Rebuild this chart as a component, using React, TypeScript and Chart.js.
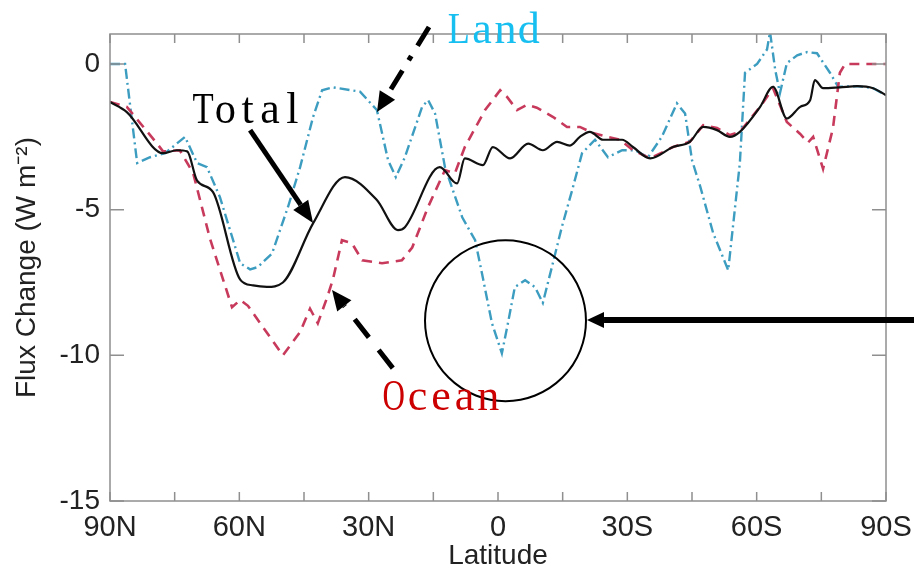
import React, { useEffect, useRef } from 'react';
import { Chart, registerables } from 'chart.js';

Chart.register(...registerables);

// ---- data (latitude in degrees, + = N, - = S; flux change in W m^-2) ----
const totalLat = [90, 86.1, 77.7, 74.5, 72.1, 69.8, 66.1, 59.8, 56.8, 53.6, 49.9, 42.9, 35.5, 28.1, 23.2, 21.6, 13.5, 9.5, 7.7, 3.5, 1.2, -2.8, -7.0, -10.4, -13.7, -16.7, -19.0, -21.3, -24.4, -28.8, -31.3, -35.3, -40.6, -44.5, -47.6, -50.8, -53.8, -56.1, -60.8, -63.8, -67.0, -70.1, -72.4, -73.5, -75.4, -79.3, -83.3, -87.0, -90];
const totalVal = [-1.3, -1.65, -3.06, -2.96, -3.0, -4.0, -4.4, -7.4, -7.6, -7.65, -7.5, -5.47, -3.88, -4.67, -5.7, -5.6, -3.54, -4.1, -3.24, -3.47, -2.85, -3.24, -2.73, -2.96, -2.67, -2.8, -2.5, -2.33, -2.6, -2.6, -2.85, -3.24, -2.85, -2.67, -2.16, -2.27, -2.5, -2.33, -1.47, -0.78, -1.87, -1.47, -1.24, -0.55, -0.83, -0.8, -0.76, -0.83, -1.07];

const oceanLat = [90, 86.1, 79.1, 77.7, 73.8, 70.7, 66.8, 61.7, 59.8, 58.0, 49.9, 45.9, 43.6, 41.8, 39.6, 38.3, 36.2, 33.9, 31.5, 26.9, 22.3, 19.9, 16.2, 12.3, 10.0, 7.7, 3.0, -0.5, -2.1, -4.4, -6.7, -9.0, -12.8, -16.0, -19.0, -22.0, -25.3, -28.3, -31.3, -35.3, -40.6, -44.5, -47.6, -50.8, -53.8, -56.1, -60.8, -63.8, -67.0, -70.1, -71.9, -73.1, -75.4, -77.7, -79.3, -80.5, -90];
const oceanVal = [-1.3, -1.47, -2.73, -3.0, -2.96, -3.75, -6.0, -8.35, -8.1, -8.3, -10.0, -9.2, -8.4, -8.9, -8.0, -7.4, -6.05, -6.15, -6.74, -6.84, -6.74, -6.3, -4.9, -3.64, -3.75, -2.85, -1.58, -0.9, -1.13, -1.58, -1.4, -1.5, -1.82, -2.16, -2.16, -2.37, -2.5, -2.6, -2.96, -3.24, -2.85, -2.67, -2.1, -2.2, -2.44, -2.33, -1.47, -0.83, -1.99, -2.4, -2.7, -2.5, -3.6, -2.2, -0.3, 0, 0];

const landLat = [90, 86.5, 83.7, 80.7, 77.2, 72.6, 69.8, 67.5, 64.5, 59.8, 57.5, 55.7, 52.4, 48.7, 45.9, 42.9, 40.8, 38.3, 32.0, 28.1, 25.5, 23.7, 21.6, 17.6, 16.2, 14.6, 12.3, 8.3, 5.3, 3.7, 1.4, -0.9, -2.3, -3.9, -6.3, -8.6, -10.4, -12.5, -14.8, -17.2, -19.5, -22.5, -25.5, -28.8, -31.8, -34.8, -38.0, -41.5, -43.4, -45.0, -46.9, -49.9, -53.4, -56.1, -57.3, -60.1, -62.4, -63.1, -64.3, -65.4, -67.0, -69.4, -71.7, -74.0, -77.0, -78.9, -83.3, -87.0, -90];
const landVal = [0, 0, -3.4, -3.2, -3.06, -2.5, -3.4, -3.54, -4.57, -6.84, -7.05, -6.97, -6.5, -4.9, -3.54, -1.82, -0.9, -0.8, -0.95, -1.58, -3.3, -3.88, -3.2, -1.47, -1.24, -1.7, -3.54, -5.26, -6.05, -7.2, -8.9, -9.93, -8.9, -7.66, -7.42, -7.66, -8.2, -6.97, -5.6, -4.33, -3.06, -2.6, -3.2, -2.96, -2.96, -3.2, -2.5, -1.35, -1.7, -3.3, -4.2, -5.8, -7.08, -3.4, -0.3, 0.0, 0.5, 1.1, -0.2, -1.0, 0.03, 0.3, 0.41, 0.37, -0.3, -0.78, -0.76, -0.83, -1.07];

// ---- axes ----
const xTickValues = [90, 60, 30, 0, -30, -60, -90];
const xTickLabels = ['90N', '60N', '30N', '0', '30S', '60S', '90S'];
const xMinorTicks = [90, 75, 60, 45, 30, 15, 0, -15, -30, -45, -60, -75, -90];
const yTickValues = [-15, -10, -5, 0];
const yTickLabels = ['-15', '-10', '-5', '0'];

// ---- annotations (data coordinates) ----
const annoTexts = [
  { text: 'Land', lat: 11.8, val: 0.72, color: '#16bff0', cell: 23.3 },
  { text: 'Total', lat: 71.0, val: -2.03, color: '#000000', cell: 22.3 },
  { text: 'Ocean', lat: 26.9, val: -11.88, color: '#cc0000', cell: 23.6 },
];
const annoArrows = [
  { from: [16.0, 1.27], to: [28.07, -1.65], dash: [22, 12, 5, 12], width: 5, head: 20, half: 9 },
  { from: [57.5, -2.27], to: [42.9, -5.46], dash: [], width: 5, head: 22, half: 9 },
  { from: [24.4, -10.44], to: [38.5, -7.76], dash: [23, 16], width: 5, head: 20, half: 9 },
  { from: [-96.5, -8.79], to: [-20.65, -8.79], dash: [], width: 6, head: 17, half: 8 },
];
const annoCircle = { lat: -1.74, val: -8.81, radiusDeg: 18.67 };

const toPoints = (lat: number[], val: number[]) => lat.map((x, i) => ({ x, y: val[i] }));

function drawArrow(ctx: CanvasRenderingContext2D, x1: number, y1: number, x2: number, y2: number,
  w: number, dash: number[], headLen: number, headHalf: number) {
  const ang = Math.atan2(y2 - y1, x2 - x1);
  const bx = x2 - headLen * Math.cos(ang);
  const by = y2 - headLen * Math.sin(ang);
  ctx.save();
  ctx.strokeStyle = '#000';
  ctx.fillStyle = '#000';
  ctx.lineWidth = w;
  ctx.lineCap = 'butt';
  ctx.setLineDash(dash);
  ctx.beginPath();
  ctx.moveTo(x1, y1);
  ctx.lineTo(bx, by);
  ctx.stroke();
  ctx.setLineDash([]);
  ctx.beginPath();
  ctx.moveTo(x2, y2);
  ctx.lineTo(bx + headHalf * Math.sin(ang), by - headHalf * Math.cos(ang));
  ctx.lineTo(bx - headHalf * Math.sin(ang), by + headHalf * Math.cos(ang));
  ctx.closePath();
  ctx.fill();
  ctx.restore();
}

const framePlugin = {
  id: 'frameTicks',
  afterDatasetsDraw(chart: any) {
    const { ctx, chartArea: a, scales } = chart;
    const xs = scales.x, ys = scales.y;
    ctx.save();
    ctx.strokeStyle = '#8f8f8f';
    ctx.lineWidth = 1.5;
    ctx.strokeRect(a.left, a.top, a.right - a.left, a.bottom - a.top);
    ctx.beginPath();
    xMinorTicks.forEach((v) => {
      const px = xs.getPixelForValue(v);
      ctx.moveTo(px, a.bottom); ctx.lineTo(px, a.bottom - 9);
      ctx.moveTo(px, a.top); ctx.lineTo(px, a.top + 9);
    });
    yTickValues.forEach((v) => {
      const py = ys.getPixelForValue(v);
      ctx.moveTo(a.left, py); ctx.lineTo(a.left + 14, py);
      ctx.moveTo(a.right, py); ctx.lineTo(a.right - 14, py);
    });
    ctx.stroke();
    ctx.restore();
  },
};

const annoPlugin = {
  id: 'annotations',
  afterDraw(chart: any) {
    const { ctx, scales } = chart;
    const xs = scales.x, ys = scales.y;
    const X = (v: number) => xs.getPixelForValue(v);
    const Y = (v: number) => ys.getPixelForValue(v);
    ctx.save();
    // circle
    const cx = X(annoCircle.lat), cy = Y(annoCircle.val);
    const r = Math.abs(X(annoCircle.lat + annoCircle.radiusDeg) - cx);
    ctx.strokeStyle = '#000';
    ctx.lineWidth = 2;
    ctx.beginPath();
    ctx.arc(cx, cy, r, 0, Math.PI * 2);
    ctx.stroke();
    // arrows
    annoArrows.forEach((a) => {
      drawArrow(ctx, X(a.from[0]), Y(a.from[1]), X(a.to[0]), Y(a.to[1]), a.width, a.dash, a.head, a.half);
    });
    // texts (half-width monospace look)
    annoTexts.forEach((t) => {
      const x0 = X(t.lat), base = Y(t.val);
      ctx.font = '44px "Liberation Serif", serif';
      ctx.fillStyle = t.color;
      ctx.textAlign = 'center';
      ctx.textBaseline = 'alphabetic';
      for (let i = 0; i < t.text.length; i++) {
        const ch = t.text[i];
        const w = ctx.measureText(ch).width;
        const sx = w > t.cell * 0.95 ? (t.cell * 0.95) / w : 1;
        ctx.save();
        ctx.translate(x0 + (i + 0.5) * t.cell, base);
        ctx.scale(sx, 1);
        ctx.fillText(ch, 0, 0);
        ctx.restore();
      }
    });
    ctx.restore();
  },
};

export default function App() {
  const ref = useRef<HTMLCanvasElement>(null);
  useEffect(() => {
    document.body.style.margin = '0';
    const chart = new Chart(ref.current as HTMLCanvasElement, {
      type: 'line',
      data: {
        datasets: [
          {
            label: 'Total',
            data: toPoints(totalLat, totalVal),
            borderColor: '#111111',
            borderWidth: 2.2,
            pointRadius: 0,
            cubicInterpolationMode: 'monotone',
          },
          {
            label: 'Ocean',
            data: toPoints(oceanLat, oceanVal),
            borderColor: '#c83a5c',
            borderWidth: 2.6,
            borderDash: [10, 7],
            pointRadius: 0,
            tension: 0,
          },
          {
            label: 'Land',
            data: toPoints(landLat, landVal),
            borderColor: '#3d9dc0',
            borderWidth: 2.4,
            borderDash: [10, 4, 2, 4],
            pointRadius: 0,
            tension: 0,
          },
        ],
      },
      options: {
        animation: false,
        responsive: false,
        parsing: false as any,
        layout: { padding: { top: 34, right: 28, left: 0, bottom: 0 } },
        plugins: { legend: { display: false }, tooltip: { enabled: false } },
        scales: {
          x: {
            type: 'linear',
            min: -90,
            max: 90,
            reverse: true,
            afterBuildTicks: (s: any) => { s.ticks = xTickValues.map((v) => ({ value: v })); },
            afterFit: (s: any) => { s.height = 70; s.paddingLeft = 0; s.paddingRight = 0; },
            grid: { display: false, drawTicks: false },
            border: { display: false },
            ticks: {
              autoSkip: false,
              maxRotation: 0,
              padding: 10,
              color: '#222',
              font: { family: '"Liberation Sans", Arial, sans-serif', size: 29 },
              callback: (v: any) => { const i = xTickValues.indexOf(Number(v)); return i >= 0 ? xTickLabels[i] : ''; },
            },
            title: {
              display: true,
              text: 'Latitude',
              color: '#222',
              font: { family: '"Liberation Sans", Arial, sans-serif', size: 28, lineHeight: 1 },
              padding: { top: 0, bottom: 1 },
            },
          },
          y: {
            type: 'linear',
            min: -15,
            max: 1.03,
            afterBuildTicks: (s: any) => { s.ticks = yTickValues.map((v) => ({ value: v })); },
            afterFit: (s: any) => { s.width = 110; s.paddingTop = 0; s.paddingBottom = 0; },
            grid: { display: false, drawTicks: false },
            border: { display: false },
            ticks: {
              padding: 10,
              color: '#222',
              font: { family: '"Liberation Sans", Arial, sans-serif', size: 28 },
              callback: (v: any) => { const i = yTickValues.indexOf(Number(v)); return i >= 0 ? yTickLabels[i] : ''; },
            },
            title: {
              display: true,
              text: 'Flux Change (W m\u207B\u00B2)',
              color: '#222',
              font: { family: '"Liberation Sans", Arial, sans-serif', size: 28, lineHeight: 1 },
              padding: { top: 13, bottom: 0 },
            },
          },
        },
      },
      plugins: [framePlugin, annoPlugin],
    } as any);
    return () => chart.destroy();
  }, []);
  return (
    <div style={{ position: 'absolute', left: 0, top: 0, width: 914, height: 571, background: '#fff' }}>
      <canvas ref={ref} width={914} height={571} style={{ width: 914, height: 571, display: 'block' }} />
    </div>
  );
}
